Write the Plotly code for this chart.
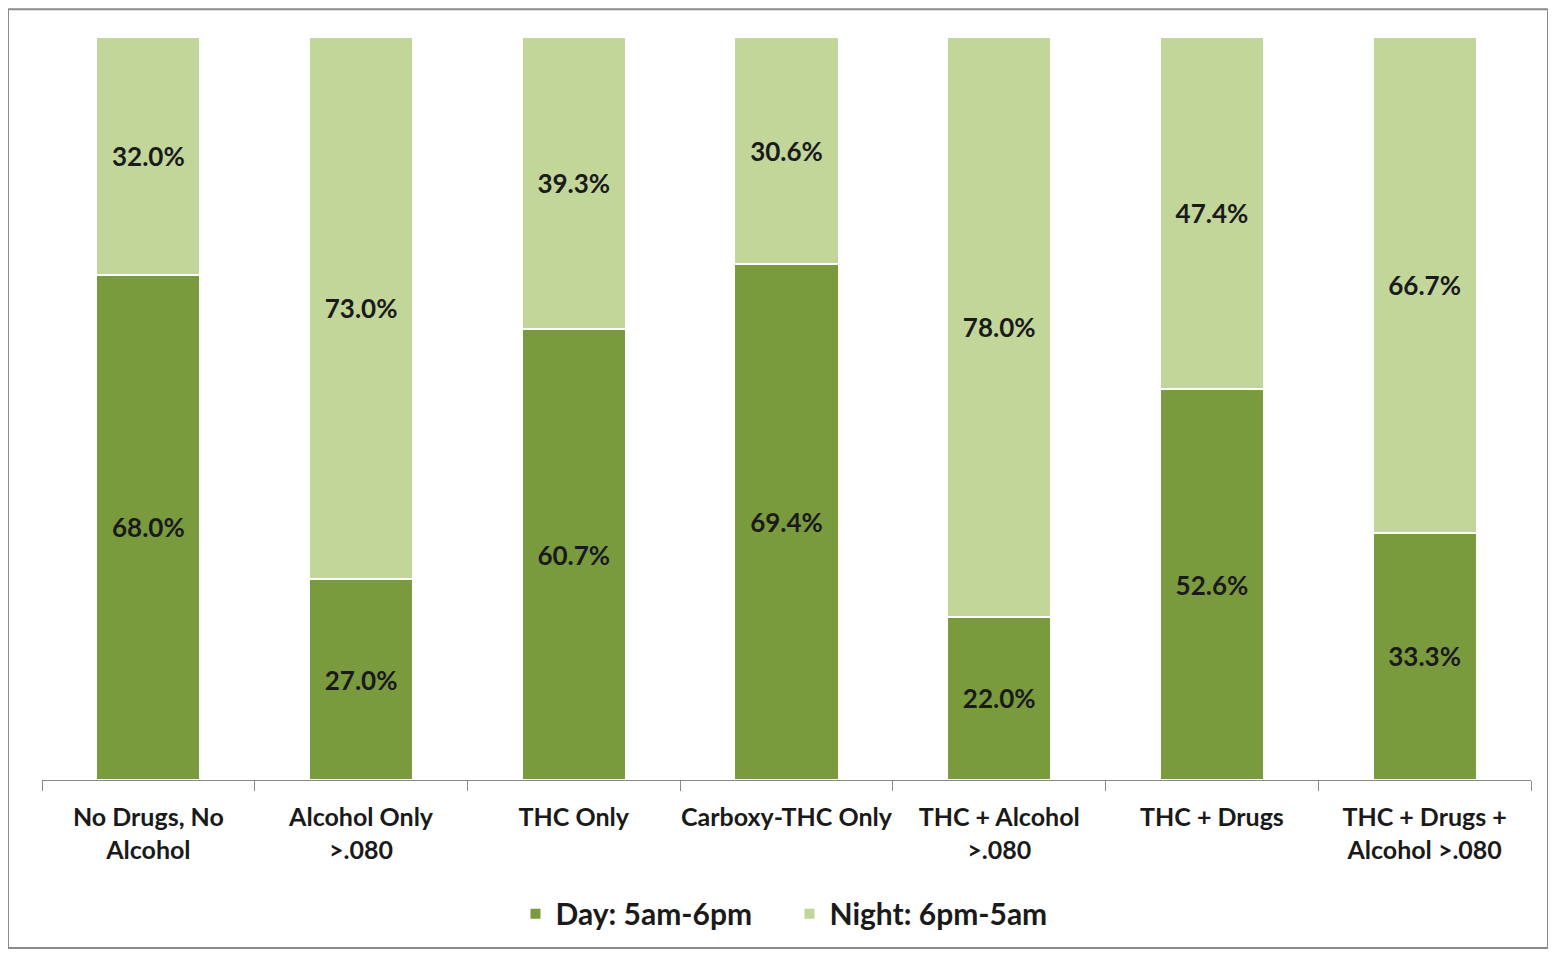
import plotly.graph_objects as go

categories = ["No Drugs, No<br>Alcohol", "Alcohol Only<br>>.080", "THC Only", "Carboxy-THC Only",
              "THC + Alcohol<br>>.080", "THC + Drugs", "THC + Drugs +<br>Alcohol >.080"]
day = [68.0, 27.0, 60.7, 69.4, 22.0, 52.6, 33.3]
night = [32.0, 73.0, 39.3, 30.6, 78.0, 47.4, 66.7]

DARK = "#7A9A3E"
LIGHT = "#C2D69A"
FONT = "Lato, 'Open Sans', sans-serif"

fig = go.Figure()
fig.add_trace(go.Bar(x=categories, y=day, name="Day: 5am-6pm", marker=dict(color=DARK, line=dict(color="white", width=2)),
                     text=[f"{v:.1f}%" for v in day], textposition="inside", insidetextanchor="middle",
                     textfont=dict(color="#1a1a1a", size=26, family=FONT, weight="bold")))
fig.add_trace(go.Bar(x=categories, y=night, name="Night: 6pm-5am", marker=dict(color=LIGHT, line=dict(color="white", width=2)),
                     text=[f"{v:.1f}%" for v in night], textposition="inside", insidetextanchor="middle",
                     textfont=dict(color="#1a1a1a", size=26, family=FONT, weight="bold")))

L, R = 34, 25
PW = 1548 - L - R
fig.update_layout(
    barmode="stack", bargap=0.51,
    width=1548, height=951,
    margin=dict(l=L, r=R, t=29, b=179, autoexpand=False),
    paper_bgcolor="white", plot_bgcolor="white",
    font=dict(family=FONT, color="#1a1a1a"),
    uniformtext=dict(minsize=10, mode="show"),
    showlegend=True,
    legend=dict(orientation="h", x=0.502, xanchor="center", y=-0.145, yanchor="top",
                font=dict(size=30, family=FONT, weight="bold"), itemwidth=30, entrywidth=229,
                traceorder="normal"),
    xaxis=dict(showline=True, linecolor="#888888", linewidth=1, ticks="outside", tickson="boundaries",
               ticklen=10, tickcolor="#888888", tickfont=dict(size=25, family=FONT, weight="bold"),
               tickangle=0, automargin=False, showgrid=False, ticklabelstandoff=15),
    yaxis=dict(range=[0, 100], visible=False, showgrid=False),
    shapes=[dict(type="rect", xref="paper", yref="paper",
                 x0=(0 - L) / PW, x1=(1540 - L) / PW, y0=-0.226, y1=1.0375,
                 line=dict(color="#8a8a8a", width=2), fillcolor="rgba(0,0,0,0)", layer="below")],
)
fig.write_html("out.html")
